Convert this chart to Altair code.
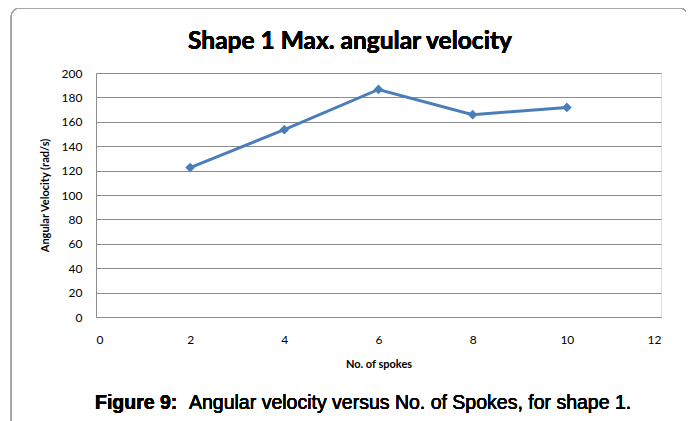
import altair as alt
import pandas as pd

spokes = [2, 4, 6, 8, 10]
velocity = [122.5, 153.5, 186.5, 165.8, 171.8]

df = pd.DataFrame({"spokes": spokes, "velocity": velocity})

blue = "#4a7ebb"
grid = "#8c8c8c"
font = "Lato"

x = alt.X("spokes:Q", scale=alt.Scale(domain=[0, 12], nice=False),
          axis=alt.Axis(values=[0, 2, 4, 6, 8, 10, 12], title="No. of spokes",
                        grid=False, ticks=False, domain=True, domainColor=grid,
                        labelPadding=17, titlePadding=13, labelFont=font,
                        labelFontSize=12, labelColor="#000", titleFont=font,
                        titleFontSize=11, titleFontWeight="bold", titleColor="#000"))
y = alt.Y("velocity:Q", scale=alt.Scale(domain=[0, 200], nice=False),
          axis=alt.Axis(values=list(range(0, 201, 20)), title="Angular Velocity (rad/s)",
                        grid=True, gridColor=grid, ticks=False, domain=True, domainColor=grid,
                        labelPadding=14, titlePadding=11, labelFont=font,
                        labelFontSize=12, labelColor="#000", titleFont=font,
                        titleFontSize=11, titleFontWeight="bold", titleColor="#000"))

line = alt.Chart(df).mark_line(color=blue, strokeWidth=3).encode(x=x, y=y)
pts = alt.Chart(df).mark_point(shape="diamond", filled=True, color=blue, size=95, opacity=1).encode(x=x, y=y)

frame = alt.Chart(df).mark_rect(fill=None, stroke="#a6a6a6", strokeWidth=1.2, cornerRadius=9).encode(
    x=alt.value(-85), x2=alt.value(592), y=alt.value(-65), y2=alt.value(520))

title = alt.Chart(df).mark_text(text="Shape 1 Max. angular velocity", font=font, fontWeight="bold",
                                fontSize=24.5, align="center", baseline="middle", color="#000").encode(
    x=alt.value(254), y=alt.value(-31))

cap1 = alt.Chart(df).mark_text(text="Figure 9:", font="Liberation Sans", fontWeight="bold",
                               fontSize=19.5, align="left", baseline="middle", color="#000").encode(
    x=alt.value(-1), y=alt.value(330))
cap2 = alt.Chart(df).mark_text(text="Angular velocity versus No. of Spokes, for shape 1.",
                               font="Liberation Sans", fontSize=19.5, align="left",
                               baseline="middle", color="#000").encode(
    x=alt.value(93), y=alt.value(330))

chart = alt.layer(frame, line, pts, title, cap1, cap2).properties(
    width=565, height=244,
    autosize=alt.AutoSizeParams(type="none"),
    padding={"left": 88, "top": 65, "right": 25, "bottom": 104},
).configure_view(stroke=None).configure(background="white")

chart.save("out.html", embed_options={"renderer": "svg", "actions": False})
